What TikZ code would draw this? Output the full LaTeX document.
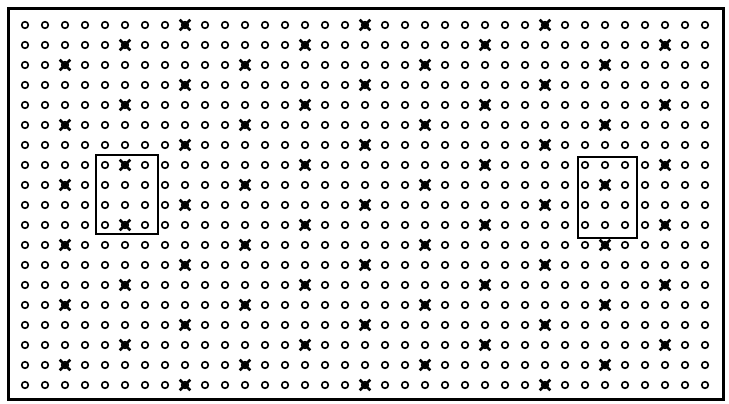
\documentclass[tikz,border=0pt]{standalone}
\usepackage{tikz}
\usetikzlibrary{shapes.misc,calc}

\begin{document}
\begin{tikzpicture}[x=1pt, y=-1pt,
    dot/.style={circle, draw, line width=1.6pt, minimum size=6.6pt, inner sep=0pt},
    hit/.style={cross out, draw, line width=2.6pt, minimum size=8pt, inner sep=0pt},
    frame/.style={draw, line width=3pt},
    window/.style={draw, line width=2pt},
  ]
  \useasboundingbox (0,0) rectangle (729,404);

  % Outer frame
  \draw[frame] (8,9) rectangle (723,399);

  % Grid of sites, every ninth one marked
  \foreach \r in {0,...,18} {
    \foreach \c in {0,...,34} {
      \node[dot] (d-\r-\c) at ({25+20*\c},{25+20*\r}) {};
      \pgfmathtruncatemacro\k{mod(\c+3*\r,9)}
      \ifnum\k=8
        \node[hit] (m-\r-\c) at (d-\r-\c) {};
      \fi
    }
  }

  % Windows
  \draw[window] ($(d-7-4)+(-9,-10)$) rectangle ($(d-10-6)+(13,9)$);
  \draw[window] ($(d-7-28)+(-7,-8)$) rectangle ($(d-10-30)+(12,13)$);
\end{tikzpicture}
\end{document}
